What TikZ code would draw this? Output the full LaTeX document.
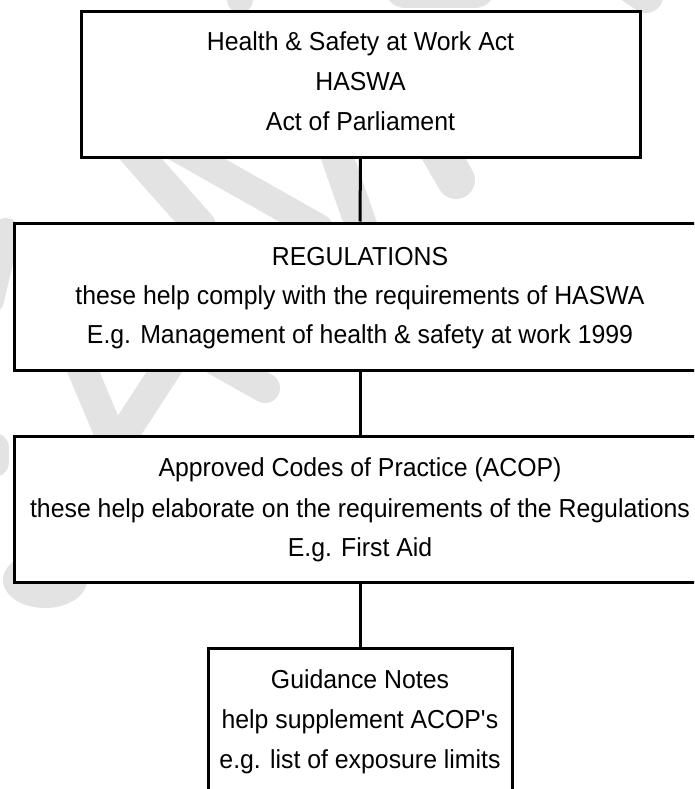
\documentclass[tikz,border=0pt]{standalone}
\usepackage{fontspec}
\setmainfont{Liberation Sans}[FakeStretch=0.955]
\definecolor{wmgray}{HTML}{E3E3E3}
\tikzset{
  wm/.style={line width=#1, line cap=round, draw=wmgray},
  boxnode/.style={draw=black, line width=3pt, fill=white, inner sep=0pt},
  txt/.style={anchor=base, inner sep=0pt, font=\fontsize{26}{40}\selectfont},
  link/.style={draw=black, line width=3pt},
}
\begin{document}
\begin{tikzpicture}[x=1pt,y=-1pt]
\clip (0,0) rectangle (694,789);
\fill[white] (0,0) rectangle (694,789);
% faint watermark strokes
\draw[wm=32pt] (115,130) -- (200,226);
\draw[wm=28pt] (163,140) -- (319,228);
\draw[wm=32pt] (333,145) -- (362,228);
\draw[wm=38pt] (430,135) -- (456,180);
\draw[wm=40pt] (405,-12) -- (475,-12);
\draw[wm=26pt] (240,-12) -- (240,0);
\draw[wm=34pt] (615,-25) -- (646,-4);
\draw[wm=28pt] (6,232) -- (-10,300);
\draw[wm=30pt] (70,340) -- (112,440);
\draw[wm=30pt] (185,340) -- (120,440);
\draw[wm=30pt] (215,360) -- (265,388);
\draw[wm=30pt] (-6,448) -- (-6,462);
\fill[wmgray] (45,580) ellipse [x radius=42, y radius=28];
% boxes
\node[boxnode, minimum width=559pt, minimum height=145pt] (b1) at (360.5,84.5) {};
\node[boxnode, minimum width=692pt, minimum height=147pt] (b2) at (360,296.5) {};
\node[boxnode, minimum width=692pt, minimum height=146pt] (b3) at (360,509) {};
\node[boxnode, minimum width=304pt, minimum height=160pt] (b4) at (360,728) {};
% connectors
\draw[link] (b1.south) -- (b2.north);
\draw[link] (b2.south) -- (b3.north);
\draw[link] (b3.south) -- (b4.north);
% texts
\node[txt] (t11) at (360.5,51) {Health \& Safety at Work Act};
\node[txt] (t12) at (360.5,91) {HASWA};
\node[txt] (t13) at (360.5,131) {Act of Parliament};
\node[txt] (t21) at (360,265) {REGULATIONS};
\node[txt] (t22) at (360,304) {these help comply with the requirements of HASWA};
\node[txt] (t23) at (360,343) {E.g. Management of health \& safety at work 1999};
\node[txt] (t31) at (360,476) {Approved Codes of Practice (ACOP)};
\node[txt] (t32) at (360,517) {these help elaborate on the requirements of the Regulations};
\node[txt] (t33) at (360,556) {E.g. First Aid};
\node[txt] (t41) at (360,688) {Guidance Notes};
\node[txt] (t42) at (360,728) {help supplement ACOP\textquotesingle s};
\node[txt] (t43) at (360,768) {e.g. list of exposure limits};
\end{tikzpicture}
\end{document}
